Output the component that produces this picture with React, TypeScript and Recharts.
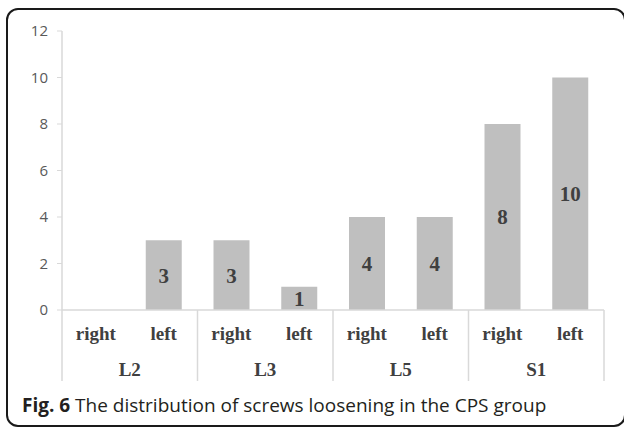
import { BarChart, Bar, XAxis, YAxis, LabelList } from 'recharts';

const sides = ['right', 'left', 'right', 'left', 'right', 'left', 'right', 'left'];
const levels = ['L2', 'L2', 'L3', 'L3', 'L5', 'L5', 'S1', 'S1'];
const loosened = [0, 3, 3, 1, 4, 4, 8, 10];
const yTicks = [0, 2, 4, 6, 8, 10, 12];

const data = sides.map((side, i) => ({ side, level: levels[i], value: loosened[i] }));

const W = 624;
const H = 428;
const TOP = 31;
const AXIS_W = 62;
const RIGHT = 20;
const X_AXIS_H = 118;
const PLOT_BOTTOM = H - X_AXIS_H;
const BAND = (W - AXIS_W - RIGHT) / sides.length;

const serif = '"Liberation Serif", "Times New Roman", serif';
const sans = '"Open Sans", sans-serif';

function ValueTick(props: any) {
  const { y, payload } = props;
  return (
    <text x={AXIS_W - 14} y={y} dy={5} textAnchor="end" fontFamily={sans} fontSize={15} fill="#595959">
      {payload.value}
    </text>
  );
}

function SideTick(props: any) {
  const { x, index, payload } = props;
  const lvl = levels[index];
  const isFirst = index % 2 === 0;
  return (
    <g>
      <text x={x} y={PLOT_BOTTOM + 30} textAnchor="middle" fontFamily={serif} fontWeight="bold" fontSize={19} fill="#404040">
        {payload.value}
      </text>
      {isFirst && (
        <line x1={x - BAND / 2} x2={x - BAND / 2} y1={PLOT_BOTTOM} y2={PLOT_BOTTOM + 71} stroke="#d9d9d9" strokeWidth={1.5} />
      )}
      {index === sides.length - 1 && (
        <line x1={x + BAND / 2} x2={x + BAND / 2} y1={PLOT_BOTTOM} y2={PLOT_BOTTOM + 71} stroke="#d9d9d9" strokeWidth={1.5} />
      )}
      {!isFirst && (
        <text x={x - BAND / 2} y={PLOT_BOTTOM + 66} textAnchor="middle" fontFamily={serif} fontWeight="bold" fontSize={19} fill="#404040">
          {lvl}
        </text>
      )}
    </g>
  );
}

export default function App() {
  return (
    <div style={{ position: 'absolute', left: 0, top: 0, width: W, height: H, overflow: 'hidden', background: '#fff' }}>
      <div
        style={{
          position: 'absolute',
          left: 6,
          top: 8,
          width: 620,
          height: 419,
          boxSizing: 'border-box',
          border: '2px solid #1a1a1a',
          borderRadius: 12,
        }}
      />
      <div style={{ position: 'absolute', left: 0, top: 0 }}>
        <BarChart width={W} height={H} data={data} margin={{ top: TOP, right: RIGHT, bottom: 0, left: 0 }}>
          <YAxis
            domain={[0, 12]}
            ticks={yTicks}
            width={AXIS_W}
            axisLine={{ stroke: '#d9d9d9', strokeWidth: 1.5 }}
            tickLine={{ stroke: '#d9d9d9' }}
            tickSize={5}
            tick={<ValueTick />}
          />
          <XAxis
            dataKey="side"
            height={X_AXIS_H}
            axisLine={{ stroke: '#d9d9d9', strokeWidth: 1.5 }}
            tickLine={false}
            interval={0}
            tick={<SideTick />}
          />
          <Bar dataKey="value" fill="#bfbfbf" barSize={36} isAnimationActive={false}>
            <LabelList
              dataKey="value"
              position="center"
              formatter={(v: any) => (v === 0 ? '' : v)}
              style={{ fontFamily: serif, fontWeight: 'bold', fontSize: 21, fill: '#404040' }}
            />
          </Bar>
        </BarChart>
      </div>
      <div
        style={{
          position: 'absolute',
          left: 22,
          top: 393,
          fontFamily: sans,
          fontSize: 19,
          color: '#231f20',
          whiteSpace: 'nowrap',
          lineHeight: '24px',
        }}
      >
        <b>Fig. 6</b> The distribution of screws loosening in the CPS group
      </div>
    </div>
  );
}
